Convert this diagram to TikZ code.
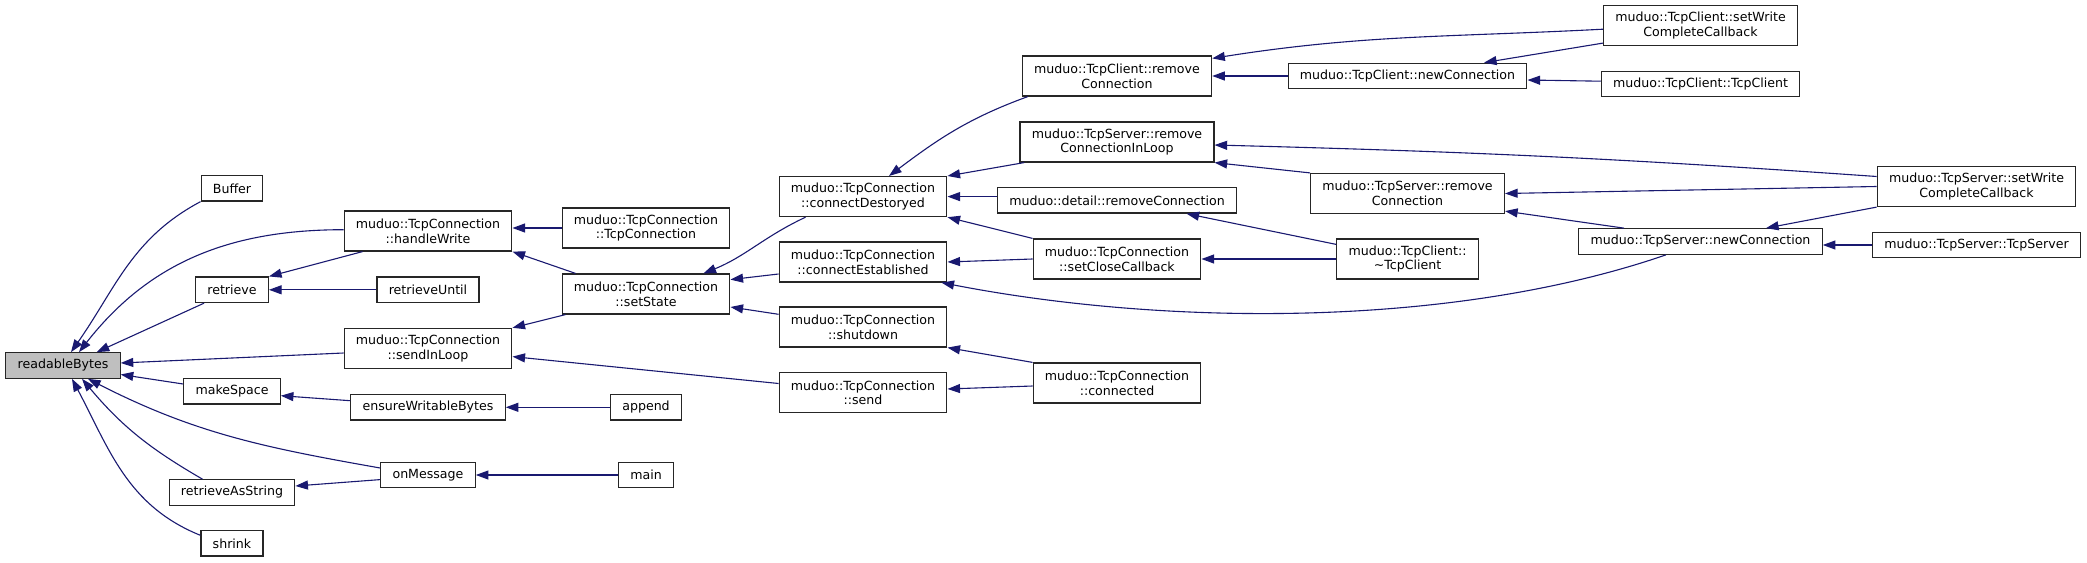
\documentclass[tikz,border=0pt]{standalone}
\usepackage{fontspec}
\setmainfont{DejaVu Sans}
\usetikzlibrary{arrows.meta, positioning}
\definecolor{edgeblue}{HTML}{191970}
\definecolor{rootgray}{HTML}{BFBFBF}

\begin{document}
\begin{tikzpicture}[
    on grid,
    func/.style={rectangle, draw=black!85, line width=1.2pt, fill=white, inner xsep=11.75pt, inner ysep=0pt, minimum height=25.5pt, align=center, font=\fontsize{12.6}{14.8}\selectfont},
    functwo/.style={func, minimum height=40pt},
    root/.style={func, fill=rootgray},
    call/.style={{Triangle[length=12.6pt, width=9pt]}-, draw=edgeblue, line width=1.1pt}
]
    \useasboundingbox (0pt,0pt) rectangle (2087pt,-562pt);

    % Column 0: the function itself
    \node (readable) [root] at (63pt,-365.5pt) {readableBytes};

    % Column 1: direct callers
    \node (buffer) [func, above right=177.2pt and 169pt of readable] {Buffer};
    \node (retrieve) [func, below=101.5pt of buffer] {retrieve};
    \node (makespace) [func, below=101.5pt of retrieve] {makeSpace};
    \node (retrstr) [func, below=101.2pt of makespace] {retrieveAsString};
    \node (shrink) [func, below=50.8pt of retrstr] {shrink};

    % Column 2
    \node (handlewrite) [functwo, below right=42.7pt and 196pt of buffer] {muduo::TcpConnection\\::handleWrite};
    \node (retruntil) [func, right=196pt of retrieve] {retrieveUntil};
    \node (sendinloop) [functwo, below=117.4pt of handlewrite] {muduo::TcpConnection\\::sendInLoop};
    \node (ensure) [func, below right=16pt and 196pt of makespace] {ensureWritableBytes};
    \node (onmessage) [func, below=67.7pt of ensure] {onMessage};

    % Column 3
    \node (tcpconn) [functwo, above right=3pt and 218pt of handlewrite] {muduo::TcpConnection\\::TcpConnection};
    \node (setstate) [functwo, below=66pt of tcpconn] {muduo::TcpConnection\\::setState};
    \node (append) [func, right=218pt of ensure] {append};
    \node (main) [func, right=218pt of onmessage] {main};

    % Column 4
    \node (destroyed) [functwo, above right=31.4pt and 217pt of tcpconn] {muduo::TcpConnection\\::connectDestoryed};
    \node (established) [functwo, below=65.4pt of destroyed] {muduo::TcpConnection\\::connectEstablished};
    \node (shutdown) [functwo, below=65pt of established] {muduo::TcpConnection\\::shutdown};
    \node (send) [functwo, below=65.8pt of shutdown] {muduo::TcpConnection\\::send};

    % Column 5
    \node (detailrm) [func, below right=3.7pt and 254pt of destroyed] {muduo::detail::removeConnection};
    \node (srvrmloop) [functwo, above=58.3pt of detailrm] {muduo::TcpServer::remove\\ConnectionInLoop};
    \node (clirm) [functwo, above=66pt of srvrmloop] {muduo::TcpClient::remove\\Connection};
    \node (setclose) [functwo, below=58.7pt of detailrm] {muduo::TcpConnection\\::setCloseCallback};
    \node (connected) [functwo, below=124pt of setclose] {muduo::TcpConnection\\::connected};

    % Column 6
    \node (clinew) [func, right=290.5pt of clirm] {muduo::TcpClient::newConnection};
    \node (srvrm) [functwo, below=117.5pt of clinew] {muduo::TcpServer::remove\\Connection};
    \node (clidtor) [functwo, right=290.5pt of setclose] {muduo::TcpClient::\\\textasciitilde TcpClient};

    % Column 7
    \node (cliwcb) [functwo, above right=50.5pt and 293pt of clinew] {muduo::TcpClient::setWrite\\CompleteCallback};
    \node (clictor) [func, below=58.5pt of cliwcb] {muduo::TcpClient::TcpClient};
    \node (srvnew) [func, below=216pt of cliwcb] {muduo::TcpServer::newConnection};

    % Column 8
    \node (srvwcb) [functwo, above right=55pt and 276pt of srvnew] {muduo::TcpServer::setWrite\\CompleteCallback};
    \node (srvctor) [func, below right=3.5pt and 276pt of srvnew] {muduo::TcpServer::TcpServer};

    % Callers of readableBytes
    \draw [call] ([xshift=8pt]readable.north) to[out=55, in=208] (buffer.south west);
    \draw [call] ([xshift=16pt]readable.north) to[out=52, in=180] ([yshift=1.3pt]handlewrite.west);
    \draw [call] ([xshift=-24pt]readable.north east) -- ([xshift=9pt]retrieve.south west);
    \draw [call] ([yshift=2.5pt]readable.east) -- ([yshift=-4.6pt]sendinloop.west);
    \draw [call] ([yshift=-9pt]readable.east) -- ([yshift=7.3pt]makespace.west);
    \draw [call] ([xshift=25pt]readable.south) to[out=-27, in=170] ([yshift=7pt]onmessage.west);
    \draw [call] ([xshift=19pt]readable.south) to[out=-50, in=150] ([xshift=-29.5pt]retrstr.north);
    \draw [call] ([xshift=9pt]readable.south) to[out=-62, in=158] ([yshift=8pt]shrink.west);

    % Column 1 <- column 2
    \draw [call] (retrieve.north east) -- ([xshift=19pt]handlewrite.south west);
    \draw [call] (retrieve.east) -- (retruntil.west);
    \draw [call] ([yshift=-4.4pt]makespace.east) -- ([yshift=6.6pt]ensure.west);
    \draw [call] ([yshift=6.5pt]retrstr.east) -- ([yshift=-4.6pt]onmessage.west);

    % Column 2 <- column 3/4
    \draw [call] (handlewrite.east |- tcpconn.west) -- (tcpconn.west);
    \draw [call] (handlewrite.south east) -- ([xshift=14pt]setstate.north west);
    \draw [call] (sendinloop.north east) -- ([xshift=4pt]setstate.south west);
    \draw [call] ([yshift=-8.2pt]sendinloop.east) -- ([yshift=9.3pt]send.west);
    \draw [call] (ensure.east) -- (append.west);
    \draw [call] (onmessage.east) -- (main.west);

    % Column 3 <- column 4
    \draw [call] ([xshift=-27pt]setstate.north east) to[out=22, in=205] ([xshift=27pt]destroyed.south west);
    \draw [call] ([yshift=14.4pt]setstate.east) -- ([yshift=-12pt]established.west);
    \draw [call] ([yshift=-13pt]setstate.east) -- ([yshift=12.7pt]shutdown.west);

    % Column 4 <- column 5 and beyond
    \draw [call] ([xshift=26pt]destroyed.north) to[out=37, in=200] ([xshift=6pt]clirm.south west);
    \draw [call] (destroyed.north east) -- ([xshift=4.7pt]srvrmloop.south west);
    \draw [call] (destroyed.east) -- (destroyed.east -| detailrm.west);
    \draw [call] (destroyed.south east) -- (setclose.north west);
    \draw [call] (established.east) -- (setclose.west);
    \draw [call] ([xshift=-6pt]established.south east) to[out=-11, in=199, looseness=0.8] ([xshift=-34.5pt]srvnew.south);
    \draw [call] (shutdown.south east) -- (connected.north west);
    \draw [call] ([yshift=3.8pt]send.east) -- ([yshift=-3pt]connected.west);

    % Column 5 <- column 6/7
    \draw [call] ([yshift=-3pt]clirm.north east) to[out=9, in=183] ([yshift=-3.7pt]cliwcb.west);
    \draw [call] (clirm.east) -- (clinew.west);
    \draw [call] ([yshift=-3pt]srvrmloop.east) to[out=-1.5, in=176] ([yshift=10pt]srvwcb.west);
    \draw [call] (srvrmloop.south east) -- (srvrm.north west);
    \draw [call] ([xshift=69.5pt]detailrm.south) -- ([yshift=-6pt]clidtor.north west);
    \draw [call] (setclose.east) -- (clidtor.west);

    % Column 6 <- column 7/8
    \draw [call] ([xshift=76.5pt]clinew.north) -- ([yshift=3pt]cliwcb.south west);
    \draw [call] ([yshift=-4pt]clinew.east) -- ([yshift=2.8pt]clictor.west);
    \draw [call] (srvrm.east) -- (srvwcb.west);
    \draw [call] ([yshift=3pt]srvrm.south east) -- ([xshift=45.7pt]srvnew.north west);

    % Column 7 <- column 8
    \draw [call] ([xshift=65.5pt]srvnew.north) -- (srvwcb.south west);
    \draw [call] (srvnew.east |- srvctor.west) -- (srvctor.west);

\end{tikzpicture}
\end{document}
